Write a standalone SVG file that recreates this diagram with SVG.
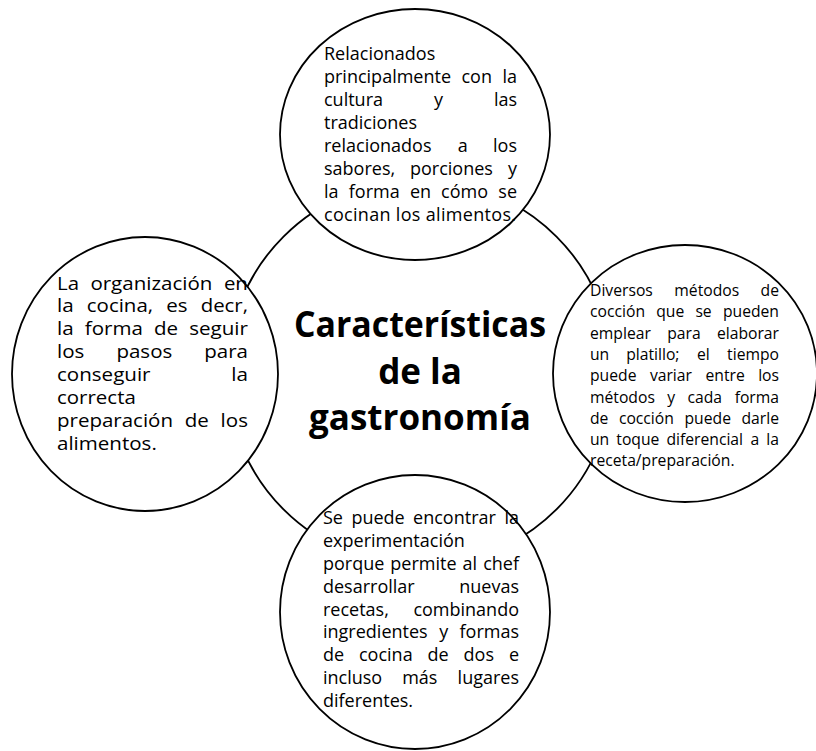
<svg xmlns="http://www.w3.org/2000/svg" width="816" height="751" viewBox="0 0 816 751">
<style>
.c{fill:#fff;stroke:#000;stroke-width:1.8}
.t{font-family:"Open Sans","Noto Sans","Liberation Sans",sans-serif;font-size:18px;fill:#000}
.s{font-size:15.7px}
.e{text-anchor:end}
.h{font-family:"Open Sans","Noto Sans","Liberation Sans",sans-serif;font-weight:bold;font-size:35px;fill:#000;text-anchor:middle}
</style>
<rect width="816" height="751" fill="#fff"/>
<g id="center">
<circle class="c" cx="420" cy="373" r="193"/>
<text class="h" x="420" y="337" textLength="252" lengthAdjust="spacingAndGlyphs">Características</text>
<text class="h" x="420" y="384">de la</text>
<text class="h" x="420" y="430">gastronomía</text>
</g>
<g id="top">
<ellipse class="c" cx="415" cy="134.5" rx="135" ry="125.5"/>
<g class="t">
<text x="324" y="59.5">Relacionados</text>
<text x="324" y="82.6">principalmente</text><text x="461.5" y="82.6">con</text><text class="e" x="517" y="82.6">la</text>
<text x="324" y="105.7">cultura</text><text x="434" y="105.7">y</text><text class="e" x="517" y="105.7">las</text>
<text x="324" y="128.8">tradiciones</text>
<text x="324" y="151.9">relacionados</text><text x="457.7" y="151.9">a</text><text class="e" x="517" y="151.9">los</text>
<text x="324" y="175">sabores,</text><text x="410" y="175">porciones</text><text class="e" x="517" y="175">y</text>
<text x="324" y="198.1">la</text><text x="348.8" y="198.1">forma</text><text x="409.9" y="198.1">en</text><text x="441.1" y="198.1">cómo</text><text class="e" x="517" y="198.1">se</text>
<text x="324" y="221.2" textLength="192" lengthAdjust="spacing">cocinan los alimentos.</text>
</g>
</g>
<g id="left">
<ellipse class="c" cx="145" cy="374" rx="133" ry="137"/>
<g class="t">
<text x="57" y="289.5" textLength="22" lengthAdjust="spacingAndGlyphs">La</text><text x="90.4" y="289.5" textLength="122" lengthAdjust="spacingAndGlyphs">organización</text><text x="223.9" y="289.5" textLength="24" lengthAdjust="spacingAndGlyphs">en</text>
<text x="57" y="312.4" textLength="16.7" lengthAdjust="spacingAndGlyphs">la</text><text x="86.8" y="312.4" textLength="66.3" lengthAdjust="spacingAndGlyphs">cocina,</text><text x="166.2" y="312.4" textLength="21.3" lengthAdjust="spacingAndGlyphs">es</text><text x="200.7" y="312.4" textLength="47.3" lengthAdjust="spacingAndGlyphs">decr,</text>
<text x="57" y="335.3" textLength="16.7" lengthAdjust="spacingAndGlyphs">la</text><text x="84.8" y="335.3" textLength="58.1" lengthAdjust="spacingAndGlyphs">forma</text><text x="154" y="335.3" textLength="24.1" lengthAdjust="spacingAndGlyphs">de</text><text x="189.2" y="335.3" textLength="58.8" lengthAdjust="spacingAndGlyphs">seguir</text>
<text x="57" y="358.2" textLength="27.4" lengthAdjust="spacingAndGlyphs">los</text><text x="116.4" y="358.2" textLength="55.9" lengthAdjust="spacingAndGlyphs">pasos</text><text x="204.3" y="358.2" textLength="43.7" lengthAdjust="spacingAndGlyphs">para</text>
<text x="57" y="381.1" textLength="93.5" lengthAdjust="spacingAndGlyphs">conseguir</text><text x="231.3" y="381.1" textLength="16.7" lengthAdjust="spacingAndGlyphs">la</text>
<text x="57" y="404" textLength="78.8" lengthAdjust="spacingAndGlyphs">correcta</text>
<text x="57" y="426.9" textLength="116" lengthAdjust="spacingAndGlyphs">preparación</text><text x="184.7" y="426.9" textLength="24.1" lengthAdjust="spacingAndGlyphs">de</text><text x="220.6" y="426.9" textLength="27.4" lengthAdjust="spacingAndGlyphs">los</text>
<text x="57" y="449.8" textLength="99.8" lengthAdjust="spacingAndGlyphs">alimentos.</text>
</g>
</g>
<g id="right">
<ellipse class="c" cx="685" cy="373.5" rx="132" ry="128.5"/>
<g class="t s">
<text x="590" y="296">Diversos</text><text x="674.3" y="296">métodos</text><text class="e" x="779" y="296">de</text>
<text x="590" y="317.3">cocción</text><text x="656.2" y="317.3">que</text><text x="695.4" y="317.3">se</text><text class="e" x="779" y="317.3">pueden</text>
<text x="590" y="338.6">emplear</text><text x="667.2" y="338.6">para</text><text class="e" x="779" y="338.6">elaborar</text>
<text x="590" y="359.9">un</text><text x="626.2" y="359.9">platillo;</text><text x="696.9" y="359.9">el</text><text class="e" x="779" y="359.9">tiempo</text>
<text x="590" y="381.2">puede</text><text x="649.9" y="381.2">variar</text><text x="705.5" y="381.2">entre</text><text class="e" x="779" y="381.2">los</text>
<text x="590" y="402.5">métodos</text><text x="667.3" y="402.5">y</text><text x="687.5" y="402.5">cada</text><text class="e" x="779" y="402.5">forma</text>
<text x="590" y="423.8">de</text><text x="618.9" y="423.8">cocción</text><text x="684.5" y="423.8">puede</text><text class="e" x="779" y="423.8">darle</text>
<text x="590" y="445.1">un</text><text x="616.3" y="445.1">toque</text><text x="666.4" y="445.1">diferencial</text><text x="750.4" y="445.1">a</text><text class="e" x="779" y="445.1">la</text>
<text x="590" y="466.4">receta/preparación.</text>
</g>
</g>
<g id="bottom">
<ellipse class="c" cx="415" cy="612" rx="135" ry="137"/>
<g class="t">
<text x="323" y="524.3">Se</text><text x="351.4" y="524.3">puede</text><text x="413.1" y="524.3">encontrar</text><text class="e" x="519" y="524.3">la</text>
<text x="323" y="547.1">experimentación</text>
<text x="323" y="569.9">porque</text><text x="390.3" y="569.9">permite</text><text x="462.5" y="569.9">al</text><text class="e" x="519" y="569.9">chef</text>
<text x="323" y="592.7">desarrollar</text><text class="e" x="519" y="592.7">nuevas</text>
<text x="323" y="615.5">recetas,</text><text class="e" x="519" y="615.5">combinando</text>
<text x="323" y="638.3">ingredientes</text><text x="439.2" y="638.3">y</text><text class="e" x="519" y="638.3">formas</text>
<text x="323" y="661.1">de</text><text x="359" y="661.1">cocina</text><text x="427.6" y="661.1">de</text><text x="463.6" y="661.1">dos</text><text class="e" x="519" y="661.1">e</text>
<text x="323" y="683.9">incluso</text><text x="402.2" y="683.9">más</text><text class="e" x="519" y="683.9">lugares</text>
<text x="323" y="706.7">diferentes.</text>
</g>
</g>
</svg>
